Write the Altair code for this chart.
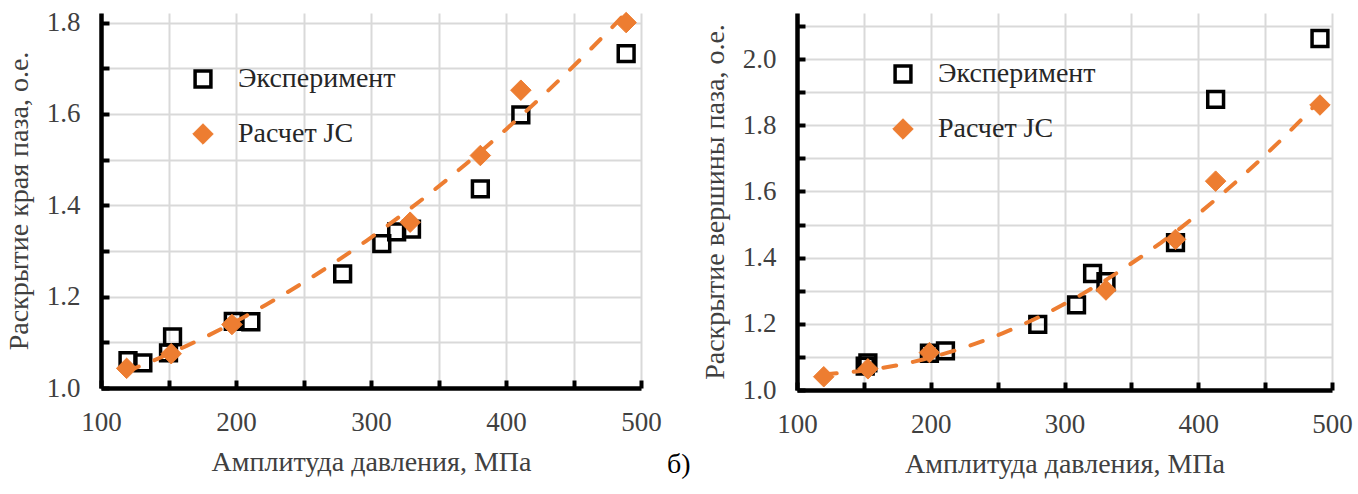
import altair as alt
import pandas as pd

# ---------------- data ----------------
# left panel: раскрытие края паза
x_exp_a = [120, 131, 150, 153, 198, 211, 279, 308, 319, 330, 381, 411, 489]
y_exp_a = [1.060, 1.055, 1.077, 1.112, 1.146, 1.145, 1.250, 1.316, 1.342, 1.348, 1.436, 1.598, 1.732]
x_jc_a = [119, 152, 197, 329, 381, 411, 489]
y_jc_a = [1.043, 1.075, 1.139, 1.363, 1.509, 1.652, 1.800]

# right panel: раскрытие вершины паза
x_exp_b = [151, 153, 199, 211, 280, 309, 321, 331, 383, 413, 491]
y_exp_b = [1.072, 1.082, 1.111, 1.118, 1.198, 1.257, 1.352, 1.327, 1.445, 1.878, 2.062]
x_jc_b = [120, 153, 199, 331, 383, 413, 491]
y_jc_b = [1.040, 1.064, 1.113, 1.302, 1.455, 1.631, 1.861]

x_ticks = [100, 150, 200, 250, 300, 350, 400, 450, 500]
y_ticks_a = [1.0, 1.1, 1.2, 1.3, 1.4, 1.5, 1.6, 1.7, 1.8]
y_ticks_b = [1.0, 1.1, 1.2, 1.3, 1.4, 1.5, 1.6, 1.7, 1.8, 1.9, 2.0, 2.1]

series_names = ["Эксперимент", "Расчет JC"]
x_title = "Амплитуда давления, МПа"
y_title_a = "Раскрытие края паза, о.е."
y_title_b = "Раскрытие вершины паза, о.е."

ORANGE = "#ED7D31"
FONT = "Times New Roman, Liberation Serif, DejaVu Serif, serif"


def panel(x_exp, y_exp, x_jc, y_jc, y_ticks, y_title, ymax, w, h, lx, ly):
    exp = pd.DataFrame({"x": x_exp, "y": y_exp, "series": series_names[0]})
    jc = pd.DataFrame({"x": x_jc, "y": y_jc, "series": series_names[1]})

    x_enc = alt.X(
        "x:Q",
        scale=alt.Scale(domain=[100, 500], nice=False, zero=False),
        axis=alt.Axis(
            values=x_ticks,
            labelExpr="datum.value % 100 == 0 ? datum.label : ''",
            title=x_title,
        ),
    )
    y_enc = alt.Y(
        "y:Q",
        scale=alt.Scale(domain=[1.0, ymax], nice=False, zero=False),
        axis=alt.Axis(
            values=y_ticks,
            labelExpr="round(datum.value * 10) % 2 == 0 ? format(datum.value, '.1f') : ''",
            title=y_title,
        ),
    )
    legend = alt.Legend(title=None, orient="none", legendX=lx, legendY=ly)
    enc = dict(
        x=x_enc,
        y=y_enc,
        shape=alt.Shape("series:N", scale=alt.Scale(domain=series_names, range=["square", "diamond"]), legend=legend),
        stroke=alt.Stroke("series:N", scale=alt.Scale(domain=series_names, range=["black", ORANGE]), legend=legend),
        fill=alt.Fill("series:N", scale=alt.Scale(domain=series_names, range=["transparent", ORANGE]), legend=legend),
        strokeWidth=alt.StrokeWidth("series:N", scale=alt.Scale(domain=series_names, range=[3.5, 1]), legend=legend),
        size=alt.Size("series:N", scale=alt.Scale(domain=series_names, range=[250, 420]), legend=legend),
    )
    squares = alt.Chart(exp).mark_point(opacity=1).encode(**enc)
    diamonds = alt.Chart(jc).mark_point(opacity=1).encode(**enc)
    trend = (
        alt.Chart(jc)
        .transform_regression("x", "y", method="poly", order=2)
        .mark_line(color=ORANGE, strokeWidth=4, strokeDash=[13, 17], strokeCap="round")
        .encode(x=x_enc, y=y_enc)
    )
    return alt.layer(squares, trend, diamonds).properties(width=w, height=h)


left = panel(x_exp_a, y_exp_a, x_jc_a, y_jc_a, y_ticks_a, y_title_a, 1.821, 540, 375, 88, 52)
right = panel(x_exp_b, y_exp_b, x_jc_b, y_jc_b, y_ticks_b, y_title_b, 2.139, 535, 377, 92, 47)

chart = (
    alt.hconcat(left, right, spacing=38)
    .resolve_scale(shape="independent", stroke="independent", fill="independent",
                   strokeWidth="independent", size="independent")
    .properties(
        title=alt.TitleParams(
            "б)", orient="bottom", anchor="middle", fontSize=28, font=FONT,
            fontWeight="normal", color="black", offset=-28,
        )
    )
    .configure(padding={"left": 4, "top": 4, "right": 5, "bottom": 5})
    .configure_view(stroke="transparent")
    .configure_axis(
        labelFont=FONT, labelFontSize=27, labelColor="#404040",
        titleFont=FONT, titleFontSize=28, titleFontWeight="normal", titleColor="#404040",
        domainColor="black", domainWidth=4.5,
        tickColor="black", tickWidth=4, tickSize={"expr": "-8"},
        gridColor="#d9d9d9", gridWidth=2,
        labelFlush=False, labelOverlap=False,
        labelPadding=29, titlePadding=13,
    )
    .configure_legend(
        labelFont=FONT, labelFontSize=28, labelColor="#262626",
        padding=0, rowPadding=26, labelOffset=21,
    )
)

chart.save("out.html", embed_options={"renderer": "svg", "actions": False})
